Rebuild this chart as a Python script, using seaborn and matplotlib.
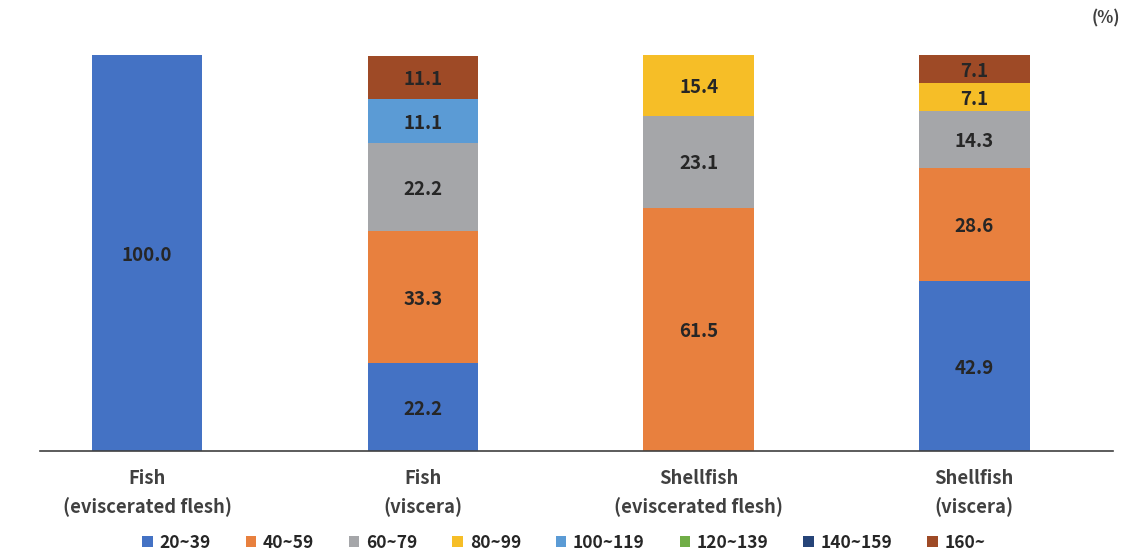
import matplotlib
matplotlib.use("Agg")
import matplotlib.pyplot as plt
import seaborn as sns
import numpy as np
import pandas as pd
from matplotlib.patches import Patch

categories = ["Fish\n(eviscerated flesh)", "Fish\n(viscera)",
              "Shellfish\n(eviscerated flesh)", "Shellfish\n(viscera)"]
groups = ["20~39", "40~59", "60~79", "80~99", "100~119", "120~139", "140~159", "160~"]
v_20_39 = [100.0, 22.2, 0.0, 42.9]
v_40_59 = [0.0, 33.3, 61.5, 28.6]
v_60_79 = [0.0, 22.2, 23.1, 14.3]
v_80_99 = [0.0, 0.0, 15.4, 7.1]
v_100_119 = [0.0, 11.1, 0.0, 0.0]
v_120_139 = [0.0, 0.0, 0.0, 0.0]
v_140_159 = [0.0, 0.0, 0.0, 0.0]
v_160 = [0.0, 11.1, 0.0, 7.1]
series = [v_20_39, v_40_59, v_60_79, v_80_99, v_100_119, v_120_139, v_140_159, v_160]
colors = ["#4472C4", "#E8803E", "#A5A6A9", "#F6BE27", "#5B9BD5", "#70AD47", "#264478", "#9E4A26"]

sns.set_theme(style="white")
plt.rcParams['font.family'] = ['Noto Sans CJK KR', 'DejaVu Sans']

fig = plt.figure(figsize=(11.28, 5.57), dpi=100)
ax = fig.add_axes([0.0355, 0.1903, 0.9515, 0.7107])

vals = np.array(series)
cum = np.cumsum(vals, axis=0)
for i in range(len(groups) - 1, -1, -1):
    df = pd.DataFrame({"cat": categories, "val": cum[i]})
    sns.barplot(data=df, x="cat", y="val", color=colors[i], width=0.4,
                saturation=1, ax=ax, order=categories, linewidth=0)

for j in range(len(categories)):
    bottom = 0.0
    for i in range(len(groups)):
        v = vals[i, j]
        if v > 0:
            ax.text(j, bottom + v / 2, f"{v:.1f}", ha="center", va="center_baseline",
                    fontsize=13.5, fontweight="bold", color="#262626")
        bottom += v

ax.set_xlim(-0.388, 3.504)
ax.set_ylim(0, 100)
ax.set_xlabel("")
ax.set_ylabel("")
ax.set_yticks([])
for s in ["top", "right", "left"]:
    ax.spines[s].set_visible(False)
ax.spines["bottom"].set_color("#404040")
ax.spines["bottom"].set_linewidth(1.2)
ax.tick_params(axis="x", length=0, pad=13)
for lab in ax.get_xticklabels():
    lab.set_fontsize(13.3)
    lab.set_fontweight("bold")
    lab.set_color("#404040")
    lab.set_linespacing(1.6)

fig.text(0.993, 0.967, "(%)", ha="right", va="center", fontsize=12,
         fontweight="bold", color="#404040")

handles = [Patch(facecolor=c, edgecolor="none") for c in colors]
fig.legend(handles, groups, loc="center", bbox_to_anchor=(0.5, 0.025), ncol=8,
           frameon=False, handlelength=0.6, handleheight=0.6,
           handletextpad=0.4, columnspacing=2.0, prop={"weight": "bold", "size": 12.5},
           labelcolor="#262626")

fig.savefig("out.png", dpi=100)
